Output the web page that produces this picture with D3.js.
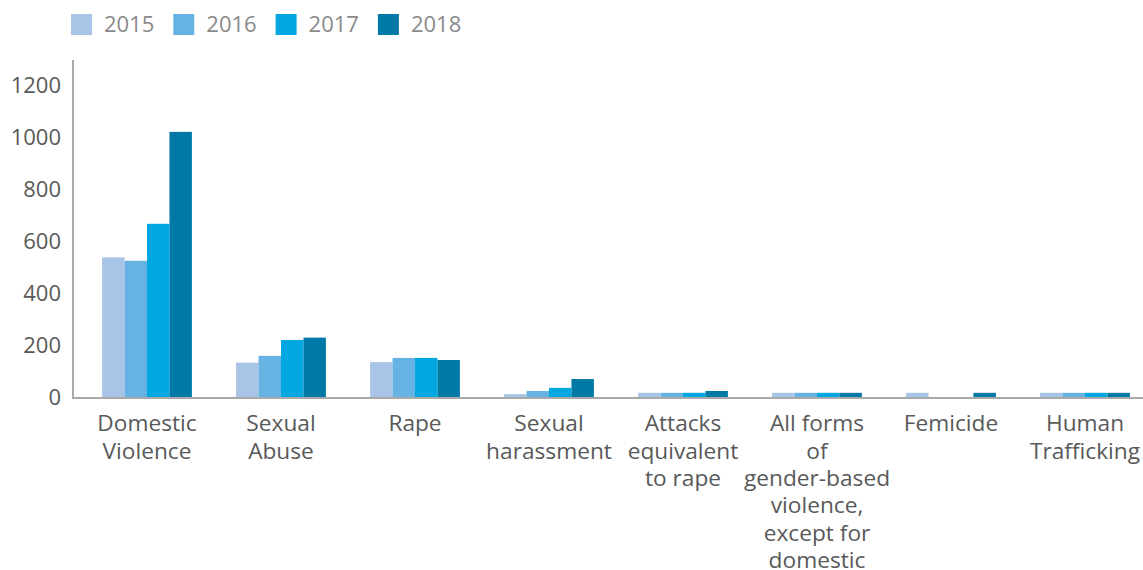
<!DOCTYPE html>
<html><head><meta charset="utf-8">
<script src="https://cdn.jsdelivr.net/npm/d3@7"></script>
<style>body{margin:0;background:#fff;}svg{display:block;font-family:"Open Sans","Noto Sans",sans-serif;}</style>
</head><body><svg id="c" width="1143" height="570"></svg>
<script>
const categories = ["Domestic Violence","Sexual Abuse","Rape","Sexual harassment","Attacks equivalent to rape","All forms of gender-based violence, except for domestic","Femicide","Human Trafficking"];
const categoryLines = [["Domestic","Violence"],["Sexual","Abuse"],["Rape"],["Sexual","harassment"],["Attacks","equivalent","to rape"],["All forms","of","gender-based","violence,","except for","domestic"],["Femicide"],["Human","Trafficking"]];
const years = ["2015","2016","2017","2018"];
const v2015 = [538, 134, 136, 13, 18, 18, 18, 18];
const v2016 = [525, 160, 152, 25, 18, 18, 0, 18];
const v2017 = [667, 221, 152, 37, 18, 18, 0, 18];
const v2018 = [1020, 230, 144, 71, 25, 18, 18, 18];
const yTicks = [0, 200, 400, 600, 800, 1000, 1200];
const colors = ["#a8c4e6", "#66b2e3", "#00a7e0", "#0079a7"];
const series = [v2015, v2016, v2017, v2018];

const svg = d3.select("#c");
const x = d3.scaleBand().domain(categories).range([80, 80 + 134*8]).paddingInner(0.33).paddingOuter(0.165);
const xi = d3.scaleBand().domain(years).range([0, x.bandwidth()]);
const y = d3.scaleLinear().domain([0, 1200]).range([397.5, 85]);

// legend
const lg = svg.append("g");
years.forEach((yr, i) => {
  const g = lg.append("g").attr("transform", `translate(${71 + i*102.3},14)`);
  g.append("rect").attr("width", 21).attr("height", 21).attr("fill", colors[i]);
  g.append("text").attr("x", 33).attr("y", 18).attr("font-size", 22).attr("fill", "#8a8a8a").text(yr);
});

// bars
categories.forEach((c, ci) => {
  years.forEach((yr, si) => {
    const val = series[si][ci];
    if (val <= 0) return;
    svg.append("rect")
      .attr("x", x(c) + xi(yr))
      .attr("y", y(val))
      .attr("width", xi.bandwidth())
      .attr("height", y(0) - y(val))
      .attr("fill", colors[si]);
  });
});

// y axis
const ya = svg.append("g").attr("transform", "translate(73,0)")
  .call(d3.axisLeft(y).tickValues(yTicks).tickFormat(d3.format("d")).tickSize(0).tickPadding(12));
ya.select(".domain").remove();
ya.selectAll("text").attr("font-size", 22).attr("fill", "#595959").attr("font-family", "'Open Sans','Noto Sans',sans-serif");
svg.append("line").attr("x1", 73).attr("x2", 73).attr("y1", 60).attr("y2", 399).attr("stroke", "#a9a9a9").attr("stroke-width", 2);
svg.append("line").attr("x1", 72).attr("x2", 1143).attr("y1", 398).attr("y2", 398).attr("stroke", "#a9a9a9").attr("stroke-width", 2);

// x labels
categories.forEach((c, ci) => {
  const t = svg.append("text").attr("text-anchor", "middle").attr("font-size", 22.7).attr("fill", "#595959")
    .attr("x", x(c) + x.bandwidth()/2).attr("y", 431.3);
  categoryLines[ci].forEach((ln, li) => {
    t.append("tspan").attr("x", x(c) + x.bandwidth()/2).attr("dy", li === 0 ? 0 : 27.3).text(ln);
  });
});
</script></body></html>
